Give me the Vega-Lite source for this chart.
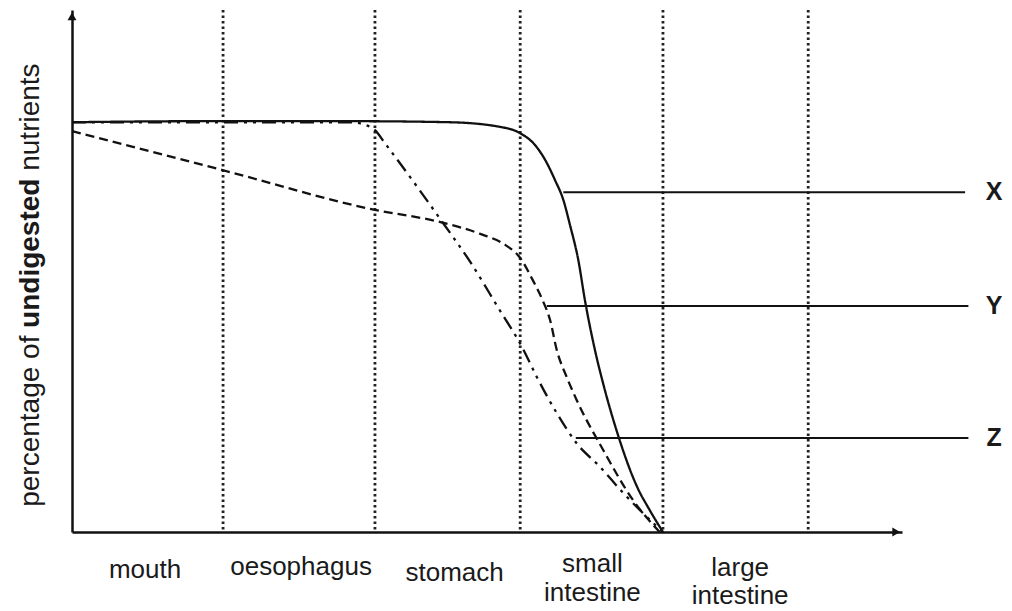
{
  "$schema": "https://vega.github.io/schema/vega-lite/v6.json",
  "width": 830,
  "height": 522,
  "autosize": "none",
  "padding": {"left": 72, "top": 10, "right": 110, "bottom": 79},
  "background": "white",
  "config": {
    "view": {"stroke": null},
    "text": {"font": "Liberation Sans", "color": "#1a1a1a"},
    "axis": {"domainColor": "#111111", "domainWidth": 2.5, "ticks": false, "labels": false, "grid": false, "title": null}
  },
  "datasets": {
    "dividers": [{"x": 18.2}, {"x": 36.5}, {"x": 54.0}, {"x": 71.2}, {"x": 88.7}],
    "curves": [
      {"series": "X", "x": 0, "y": 78.5},
      {"series": "X", "x": 15.4, "y": 78.7},
      {"series": "X", "x": 33.5, "y": 78.7},
      {"series": "X", "x": 45.5, "y": 78.5},
      {"series": "X", "x": 51.6, "y": 77.6},
      {"series": "X", "x": 54.0, "y": 76.4},
      {"series": "X", "x": 55.8, "y": 74.1},
      {"series": "X", "x": 57.0, "y": 71.3},
      {"series": "X", "x": 58.2, "y": 67.4},
      {"series": "X", "x": 59.2, "y": 63.6},
      {"series": "X", "x": 60.0, "y": 58.8},
      {"series": "X", "x": 61.0, "y": 52.1},
      {"series": "X", "x": 61.8, "y": 44.4},
      {"series": "X", "x": 63.0, "y": 34.9},
      {"series": "X", "x": 64.2, "y": 27.2},
      {"series": "X", "x": 65.7, "y": 19.0},
      {"series": "X", "x": 68.1, "y": 8.6},
      {"series": "X", "x": 69.6, "y": 4.2},
      {"series": "X", "x": 71.2, "y": 0},
      {"series": "Y", "x": 0, "y": 76.8},
      {"series": "Y", "x": 18.2, "y": 69.3},
      {"series": "Y", "x": 36.5, "y": 61.7},
      {"series": "Y", "x": 44.3, "y": 59.4},
      {"series": "Y", "x": 49.2, "y": 57.1},
      {"series": "Y", "x": 52.2, "y": 55.0},
      {"series": "Y", "x": 54.0, "y": 52.5},
      {"series": "Y", "x": 55.5, "y": 48.3},
      {"series": "Y", "x": 56.7, "y": 44.4},
      {"series": "Y", "x": 57.6, "y": 40.6},
      {"series": "Y", "x": 58.4, "y": 34.9},
      {"series": "Y", "x": 59.6, "y": 29.7},
      {"series": "Y", "x": 60.8, "y": 25.3},
      {"series": "Y", "x": 64.0, "y": 15.7},
      {"series": "Y", "x": 67.6, "y": 6.1},
      {"series": "Y", "x": 70.8, "y": 0},
      {"series": "Z", "x": 0, "y": 78.5},
      {"series": "Z", "x": 33.5, "y": 78.5},
      {"series": "Z", "x": 35.3, "y": 78.0},
      {"series": "Z", "x": 36.5, "y": 77.0},
      {"series": "Z", "x": 37.7, "y": 74.5},
      {"series": "Z", "x": 41.6, "y": 66.1},
      {"series": "Z", "x": 44.7, "y": 59.2},
      {"series": "Z", "x": 48.0, "y": 51.7},
      {"series": "Z", "x": 51.3, "y": 43.1},
      {"series": "Z", "x": 54.3, "y": 35.2},
      {"series": "Z", "x": 56.0, "y": 29.7},
      {"series": "Z", "x": 58.4, "y": 22.8},
      {"series": "Z", "x": 60.8, "y": 17.0},
      {"series": "Z", "x": 63.6, "y": 12.5},
      {"series": "Z", "x": 66.4, "y": 7.5},
      {"series": "Z", "x": 68.8, "y": 3.6},
      {"series": "Z", "x": 71.2, "y": 0}
    ],
    "keys": [
      {"series": "X", "x": 59.2, "x2": 107.6, "y": 65.1},
      {"series": "Y", "x": 57.2, "x2": 108.0, "y": 43.3},
      {"series": "Z", "x": 60.7, "x2": 108.0, "y": 18.0}
    ],
    "regions": [
      {"label": "mouth", "x": 8.8, "y": -8.8},
      {"label": "oesophagus", "x": 27.6, "y": -8.2},
      {"label": "stomach", "x": 46.1, "y": -9.4},
      {"label": "small", "x": 62.7, "y": -7.6},
      {"label": "intestine", "x": 62.7, "y": -13.2},
      {"label": "large", "x": 80.5, "y": -8.5},
      {"label": "intestine", "x": 80.5, "y": -13.8}
    ],
    "ytitle_normal": [
      {"part": "percentage of", "y": 4.83},
      {"part": "nutrients", "y": 69.2}
    ],
    "ytitle_bold": [
      {"part": "undigested", "y": 39.1}
    ],
    "arrows": [
      {"shape": "up", "x": 0, "y": 98.8},
      {"shape": "right", "x": 99.3, "y": 0}
    ]
  },
  "layer": [
    {
      "data": {"name": "dividers"},
      "mark": {"type": "rule", "strokeDash": [2.5, 3], "strokeWidth": 2.8, "color": "#222222"},
      "encoding": {
        "x": {"field": "x", "type": "quantitative", "scale": {"domain": [0, 100], "nice": false, "zero": false}, "axis": {"orient": "bottom"}}
      }
    },
    {
      "data": {"name": "curves"},
      "mark": {"type": "line", "strokeWidth": 2.3, "color": "#111111", "interpolate": "monotone"},
      "encoding": {
        "x": {"field": "x", "type": "quantitative", "scale": {"domain": [0, 100], "nice": false, "zero": false}},
        "y": {"field": "y", "type": "quantitative", "scale": {"domain": [0, 100], "nice": false, "zero": false}, "axis": {"orient": "left"}},
        "strokeDash": {"field": "series", "type": "nominal", "scale": {"domain": ["X", "Y", "Z"], "range": [[1, 0], [9, 5], [14, 6, 3, 6, 3, 6]]}, "legend": null}
      }
    },
    {
      "data": {"name": "arrows"},
      "mark": {"type": "point", "filled": true, "size": 80, "color": "#111111", "opacity": 1},
      "encoding": {
        "x": {"field": "x", "type": "quantitative"},
        "y": {"field": "y", "type": "quantitative"},
        "shape": {"field": "shape", "type": "nominal", "scale": {"domain": ["up", "right"], "range": ["triangle-up", "triangle-right"]}, "legend": null}
      }
    },
    {
      "data": {"name": "keys"},
      "mark": {"type": "rule", "strokeWidth": 2, "color": "#111111"},
      "encoding": {"x": {"field": "x", "type": "quantitative"}, "x2": {"field": "x2"}, "y": {"field": "y", "type": "quantitative"}}
    },
    {
      "data": {"name": "keys"},
      "mark": {"type": "text", "fontSize": 25, "fontWeight": "bold", "align": "center", "baseline": "middle"},
      "encoding": {"x": {"datum": 111.1, "type": "quantitative"}, "y": {"field": "y", "type": "quantitative"}, "text": {"field": "series"}}
    },
    {
      "data": {"name": "regions"},
      "mark": {"type": "text", "fontSize": 26, "align": "center", "baseline": "alphabetic"},
      "encoding": {"x": {"field": "x", "type": "quantitative"}, "y": {"field": "y", "type": "quantitative"}, "text": {"field": "label"}}
    },
    {
      "data": {"name": "ytitle_normal"},
      "mark": {"type": "text", "fontSize": 28, "angle": 270, "align": "left", "baseline": "middle"},
      "encoding": {"x": {"datum": -4.9, "type": "quantitative"}, "y": {"field": "y", "type": "quantitative"}, "text": {"field": "part"}}
    },
    {
      "data": {"name": "ytitle_bold"},
      "mark": {"type": "text", "fontSize": 28, "fontWeight": "bold", "angle": 270, "align": "left", "baseline": "middle"},
      "encoding": {"x": {"datum": -4.9, "type": "quantitative"}, "y": {"field": "y", "type": "quantitative"}, "text": {"field": "part"}}
    }
  ]
}
